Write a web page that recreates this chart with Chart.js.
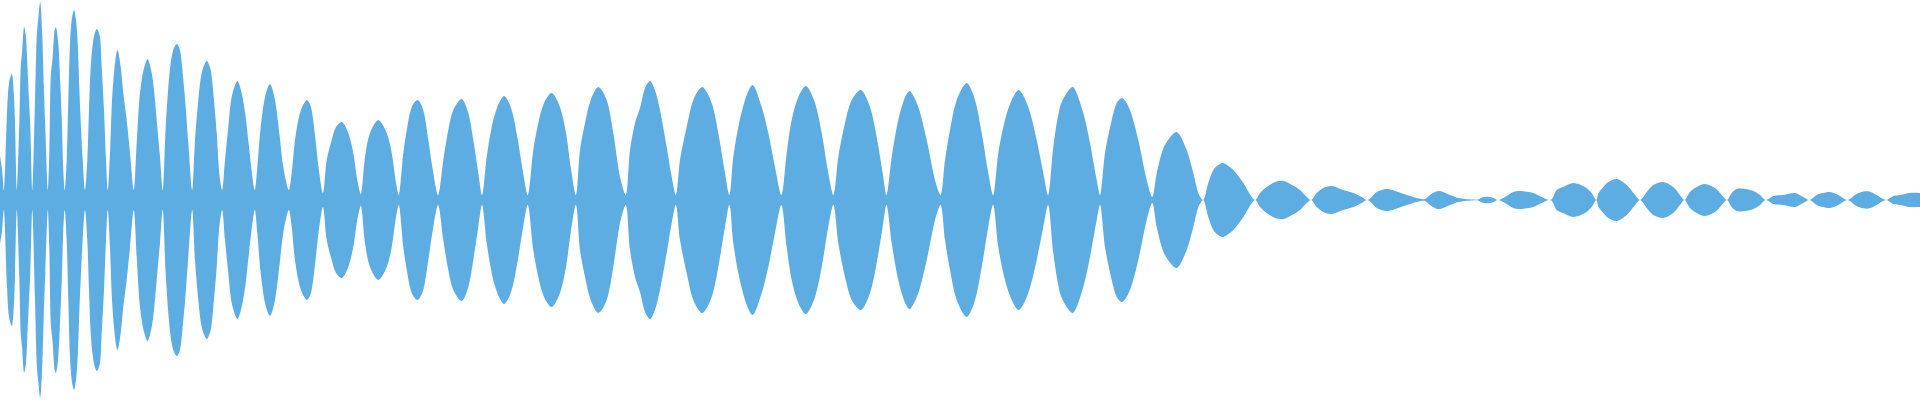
<!DOCTYPE html>
<html>
<head>
<meta charset="utf-8">
<script src="https://cdn.jsdelivr.net/npm/chart.js@4/dist/chart.umd.min.js"></script>
<style>
  html, body { margin: 0; padding: 0; background: #fff; }
  #wrap { width: 1920px; height: 400px; }
</style>
</head>
<body>
<div id="wrap"><canvas id="wave"></canvas></div>
<script>
// sample positions along the clip (0..1920) and envelope amplitude at each one
const waveX = [
  0, 2, 4, 7, 9, 12, 14, 15, 16.8,
  19.3, 20.7, 22, 24, 26, 27.3, 29, 30.3, 32.3,
  35, 36.7, 38.3, 40.3, 42.3, 43.7, 45.3, 47.8,
  49.3, 50.7, 52.7, 54.3, 56, 58.3, 60, 61.7, 63.3, 64.8,
  66.7, 68.3, 70, 71.7, 74, 76, 77.7, 79.3, 81, 82.7, 85,
  87.3, 89, 90.7, 93.3, 96.7, 100, 101.7, 104, 106, 107.8,
  110, 112, 114, 116, 117.7, 120.7, 123.3, 126.7, 130, 133.8,
  136.7, 139.3, 141.7, 144.3, 147.7, 151.7, 154.3, 157.3, 160, 162.8,
  165.7, 168.3, 170.7, 173.3, 176.7, 180, 182.7, 185.7, 188.3, 192.2,
  195, 198.3, 201.7, 206.7, 210.7, 213.3, 216.7, 219.3, 222.2,
  225, 228.3, 231.7, 237.3, 241.7, 245.7, 249.3, 254.7,
  257.3, 260.7, 265, 270, 275, 279.3, 283.3, 288.8,
  291.7, 295, 300, 306.7, 311, 315, 318.5, 323,
  326.7, 331.7, 336, 342, 348.3, 353.3, 357.3, 361,
  365, 370, 378.3, 386.7, 391.7, 396, 399,
  403.3, 407.3, 411.7, 417.7, 423.3, 428.3, 433.3, 438.2,
  443.3, 448.3, 453.3, 461.7, 468.3, 473.3, 478.3, 482.2,
  486.7, 491.7, 497.3, 504.3, 511.7, 517.3, 522.7, 527.9,
  533.3, 538.3, 544, 551.7, 560, 566, 570.7, 576,
  580, 585, 590.7, 598.3, 606.7, 613.3, 620, 626,
  630, 635, 640, 645, 650, 655, 660, 666.7, 671.7, 676,
  680, 686.7, 693.3, 702.3, 711.7, 718.3, 725, 729.5,
  733.3, 738.3, 745, 752.7, 761.7, 768.3, 775, 781.5,
  786.7, 791.7, 798.3, 806, 815, 821.7, 828.3, 833.6,
  838.3, 845, 851.7, 861, 870, 876.7, 882.7, 886.6,
  891.7, 898.3, 905, 910, 918.3, 926.7, 935, 940.8,
  945, 950, 956.7, 966.7, 975, 981.7, 988.3, 993.3,
  998.3, 1005, 1011.7, 1019, 1028.3, 1036.7, 1043.3, 1048.3,
  1053.3, 1060, 1066.7, 1073.3, 1083.3, 1090, 1096.7, 1100.3,
  1105, 1111.7, 1116.7, 1122.3, 1130, 1138.3, 1146.7, 1152.3,
  1156.7, 1161.7, 1166.7, 1176.7, 1186.7, 1193.3, 1198.3, 1203.3,
  1208.3, 1213.3, 1218.3, 1223.3, 1233.3, 1243.3, 1251.7, 1255.5,
  1260, 1266.7, 1275, 1284, 1292, 1300, 1306.7, 1311.3,
  1316.7, 1323.3, 1331.7, 1343.3, 1353.3, 1361.7, 1367,
  1371.7, 1376.7, 1386.7, 1398.3, 1406.7, 1416.7, 1425,
  1430, 1436, 1440, 1450, 1458.3, 1465, 1472,
  1478, 1482, 1486.7, 1492, 1498.5,
  1505, 1513.3, 1520, 1533.3, 1541.7, 1550.8,
  1556.7, 1563.3, 1573.3, 1585, 1591.7, 1596.3,
  1598.5, 1603.3, 1608.3, 1616.7, 1626.7, 1635, 1640.2,
  1646.7, 1653.3, 1663.3, 1673.3, 1680, 1684.6,
  1690, 1696.7, 1705, 1715, 1721.7, 1726.9,
  1731.7, 1736.7, 1745, 1753.3, 1760, 1765.8,
  1773.3, 1783.3, 1795, 1803.3, 1809.5,
  1816.7, 1823, 1830, 1838.3, 1847.5,
  1855, 1860, 1866.7, 1872, 1878.3, 1886.2,
  1893.3, 1900, 1910, 1920
];

const waveTop = [
  44, 31, 10, 87, 117, 126, 103, 77, 10,
  77, 133, 147, 173, 163, 137, 100, 73, 10,
  100, 163, 182, 198, 165, 117, 73, 10,
  47, 123, 143, 168, 173, 157, 123, 83, 30, 10,
  40, 100, 157, 180, 190, 180, 157, 113, 73, 40, 10,
  40, 90, 133, 160, 171, 163, 133, 90, 40, 10,
  47, 100, 127, 145, 150, 133, 107, 80, 47, 10,
  57, 100, 120, 133, 141, 127, 107, 73, 43, 10,
  73, 113, 137, 150, 156, 150, 127, 93, 57, 10,
  60, 100, 127, 139, 130, 107, 67, 27, 10,
  40, 73, 103, 119, 107, 83, 50, 10,
  33, 73, 103, 116, 100, 67, 33, 10,
  27, 60, 87, 100, 93, 65, 33, 7,
  40, 60, 73, 78, 67, 47, 20, 6,
  43, 67, 80, 67, 47, 17, 5,
  47, 73, 93, 100, 90, 60, 27, 5,
  40, 70, 90, 101, 87, 60, 27, 5,
  43, 73, 93, 104, 90, 63, 30, 5,
  50, 77, 97, 107, 93, 67, 33, 5,
  50, 77, 100, 113, 100, 67, 23, 5,
  50, 77, 92, 112, 119, 110, 90, 53, 23, 5,
  40, 73, 100, 113, 97, 67, 27, 5,
  43, 73, 100, 115, 93, 67, 33, 5,
  47, 80, 103, 114, 97, 67, 27, 5,
  43, 77, 100, 110, 93, 63, 27, 5,
  43, 80, 103, 109, 93, 60, 20, 5,
  40, 70, 100, 117, 100, 67, 27, 5,
  47, 80, 100, 110, 93, 60, 27, 5,
  53, 93, 107, 113, 87, 57, 20, 5,
  47, 80, 97, 102, 90, 60, 20, 3,
  27, 47, 58, 68, 50, 27, 7, 0,
  17, 30, 35, 37, 30, 17, 3, 0,
  7, 13, 18, 19, 15, 10, 3, 0,
  7, 12, 14, 10, 7, 3, 0,
  3, 8, 11, 8, 5, 2, 1,
  5, 8.5, 9, 5, 2, 1, 0.5,
  0.5, 2.5, 3.3, 2.5, 0,
  3, 8, 9, 7, 3, 0,
  10, 13, 17, 13, 7, 0,
  7, 13, 18, 21, 15, 5, 0,
  8, 15, 18, 13, 5, 0,
  8, 13, 16, 12, 5, 0,
  7, 11, 11, 9, 5, 0,
  4, 5, 7, 3, 0,
  5, 7, 8, 5, 0,
  5, 7.5, 8.7, 7.5, 4, 0,
  4, 5, 7, 7
];

// the picture is mirrored about the centre line
const waveBottom = waveTop;

const waveColor = "#5dade2";

document.addEventListener("DOMContentLoaded", () => {
  const top = waveX.map((x, i) => ({ x: x, y: waveTop[i] }));
  const bottom = waveX.map((x, i) => ({ x: x, y: -waveBottom[i] }));

  new Chart(document.getElementById("wave"), {
    type: "line",
    data: {
      datasets: [
        { data: top, backgroundColor: waveColor, borderWidth: 0, pointRadius: 0, fill: "+1", tension: 0.3 },
        { data: bottom, backgroundColor: waveColor, borderWidth: 0, pointRadius: 0, fill: false, tension: 0.3 }
      ]
    },
    options: {
      responsive: true,
      maintainAspectRatio: false,
      animation: false,
      layout: { padding: 0 },
      plugins: { legend: { display: false }, tooltip: { enabled: false } },
      scales: {
        x: { type: "linear", min: 0, max: 1920, display: false },
        y: { min: -200, max: 200, display: false }
      }
    }
  });
});
</script>
</body>
</html>
